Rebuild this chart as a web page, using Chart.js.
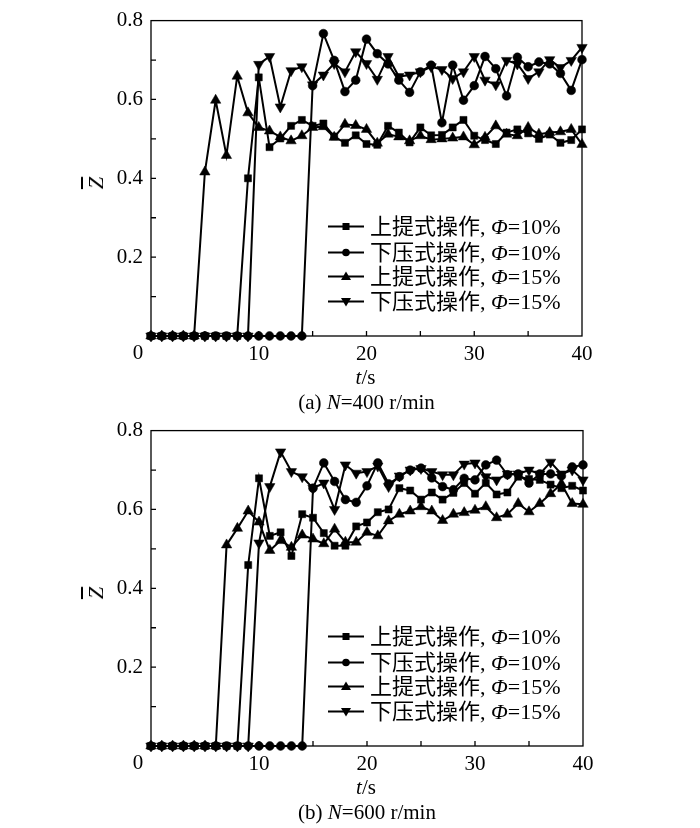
<!DOCTYPE html>
<html>
<head>
<meta charset="utf-8">
<script src="https://cdn.jsdelivr.net/npm/chart.js@4"></script>
<style>
  html, body { margin:0; padding:0; background:#fff; }
  body { width:700px; height:828px; position:relative; overflow:hidden; }
  .cv { position:absolute; left:0; }
  .txt { position:absolute; transform:translate(-50%,-50%); white-space:nowrap; font-family:"Liberation Serif","Noto Sans CJK SC",serif; font-size:21px; color:#000; line-height:1; }
  .leg { position:absolute; display:flex; align-items:center; height:24px; font-family:"Liberation Serif","Noto Sans CJK SC",serif; font-size:22px; color:#000; white-space:nowrap; line-height:1; }
  .leg svg { margin-right:6px; }
  .zl { position:absolute; transform:translate(-50%,-50%) rotate(-90deg); font-family:"Liberation Serif",serif; font-size:22px; font-style:italic; text-decoration:overline; line-height:1; }
</style>
</head>
<body>
<canvas id="ch1" class="cv" width="700" height="410" style="top:0px;width:700px;height:410px"></canvas>
<canvas id="ch2" class="cv" width="700" height="418" style="top:410px;width:700px;height:418px"></canvas>
<script>
// ---------- data ----------
const T = [0,1,2,3,4,5,6,7,8,9,10,11,12,13,14,15,16,17,18,19,20,21,22,23,24,25,26,27,28,29,30,31,32,33,34,35,36,37,38,39,40];

const seriesNames = ['上提式操作', '下压式操作', '上提式操作', '下压式操作'];
const phiValues = ['10%', '10%', '15%', '15%'];
const captions = ['(a) ', '(b) '];
const speeds = ['400 r/min', '600 r/min'];

// (a) N=400 r/min
const a_up10 = [0,0,0,0,0,0,0,0,0,0.400,0.656,0.479,0.501,0.533,0.548,0.533,0.539,0.506,0.490,0.509,0.487,0.485,0.533,0.516,0.491,0.529,0.509,0.510,0.529,0.548,0.508,0.497,0.487,0.516,0.524,0.514,0.500,0.511,0.490,0.497,0.524];
const a_down10 = [0,0,0,0,0,0,0,0,0,0,0,0,0,0,0,0.635,0.767,0.699,0.620,0.649,0.753,0.716,0.690,0.649,0.618,0.670,0.687,0.541,0.687,0.598,0.635,0.709,0.678,0.609,0.707,0.683,0.695,0.690,0.666,0.623,0.701];
const a_up15 = [0,0,0,0,0,0.416,0.598,0.458,0.659,0.566,0.529,0.520,0.505,0.495,0.508,0.529,0.531,0.504,0.537,0.534,0.524,0.489,0.512,0.505,0.495,0.508,0.498,0.500,0.502,0.505,0.485,0.504,0.533,0.512,0.508,0.529,0.512,0.516,0.518,0.524,0.486];
const a_down15 = [0,0,0,0,0,0,0,0,0,0,0.689,0.709,0.581,0.673,0.683,0.637,0.662,0.691,0.670,0.721,0.691,0.651,0.709,0.658,0.662,0.670,0.683,0.676,0.653,0.670,0.709,0.649,0.637,0.699,0.690,0.653,0.670,0.701,0.681,0.699,0.732];

// (b) N=600 r/min
const b_up10 = [0,0,0,0,0,0,0,0,0,0.459,0.679,0.533,0.542,0.482,0.588,0.579,0.540,0.508,0.508,0.557,0.567,0.593,0.600,0.654,0.648,0.625,0.643,0.625,0.642,0.667,0.640,0.667,0.638,0.643,0.683,0.677,0.675,0.663,0.654,0.660,0.648];
const b_down10 = [0,0,0,0,0,0,0,0,0,0,0,0,0,0,0,0.654,0.718,0.671,0.625,0.618,0.660,0.718,0.665,0.683,0.700,0.705,0.680,0.658,0.650,0.679,0.675,0.713,0.725,0.688,0.690,0.667,0.690,0.690,0.685,0.708,0.713];
const b_up15 = [0,0,0,0,0,0,0,0.510,0.552,0.596,0.568,0.496,0.521,0.504,0.535,0.525,0.513,0.550,0.517,0.517,0.542,0.533,0.571,0.588,0.596,0.607,0.596,0.572,0.588,0.592,0.598,0.607,0.579,0.588,0.615,0.594,0.615,0.640,0.665,0.615,0.613];
const b_down15 = [0,0,0,0,0,0,0,0,0,0,0.515,0.658,0.746,0.696,0.683,0.654,0.667,0.600,0.713,0.692,0.696,0.710,0.658,0.685,0.700,0.704,0.696,0.688,0.688,0.715,0.718,0.683,0.675,0.690,0.690,0.700,0.690,0.720,0.690,0.700,0.675];

const yTickLabels = [0.2, 0.4, 0.6, 0.8];
const xTickLabels = [10, 20, 30, 40];
const yTickMarks = [0.1, 0.2, 0.3, 0.4, 0.5, 0.6, 0.7];
const xTickMarks = [5, 10, 15, 20, 25, 30, 35];

// ---------- drawing ----------
const markerStyles = [
  { pointStyle: 'rect', pointRadius: 5, rotation: 0 },
  { pointStyle: 'circle', pointRadius: 4.4, rotation: 0 },
  { pointStyle: 'triangle', pointRadius: 6, rotation: 0 },
  { pointStyle: 'triangle', pointRadius: 6, rotation: 180 }
];

const framePlugin = {
  id: 'frame',
  beforeDatasetsDraw(chart) {
    const { ctx, chartArea: a, scales } = chart;
    ctx.save();
    ctx.strokeStyle = '#000';
    ctx.lineWidth = 1.3;
    ctx.strokeRect(a.left, a.top, a.right - a.left, a.bottom - a.top);
    ctx.beginPath();
    yTickMarks.forEach(v => {
      const py = scales.y.getPixelForValue(v);
      ctx.moveTo(a.left, py); ctx.lineTo(a.left + 5, py);
    });
    xTickMarks.forEach(v => {
      const px = scales.x.getPixelForValue(v);
      ctx.moveTo(px, a.bottom); ctx.lineTo(px, a.bottom - 5);
    });
    ctx.stroke();
    ctx.restore();
  }
};

function makeChart(id, seriesList, padTop, padRight, xHeight) {
  const datasets = seriesList.map((vals, i) => ({
    label: seriesNames[i] + ', Φ=' + phiValues[i],
    data: T.map((t, k) => ({ x: t, y: vals[k] })),
    borderColor: '#000',
    borderWidth: 2,
    backgroundColor: '#000',
    pointBackgroundColor: '#000',
    pointBorderColor: '#000',
    pointBorderWidth: 0.5,
    pointStyle: markerStyles[i].pointStyle,
    pointRadius: markerStyles[i].pointRadius,
    rotation: markerStyles[i].rotation,
    tension: 0,
    fill: false,
    clip: false
  }));
  const font = { family: 'Liberation Serif', size: 21 };
  return new Chart(document.getElementById(id), {
    type: 'line',
    data: { datasets },
    options: {
      responsive: false,
      animation: false,
      devicePixelRatio: 1,
      layout: { padding: { left: 0, right: padRight, top: padTop, bottom: 0 } },
      plugins: { legend: { display: false }, tooltip: { enabled: false } },
      scales: {
        x: {
          type: 'linear', min: 0, max: 40,
          afterFit(s) { s.height = xHeight; },
          grid: { display: false, drawTicks: false },
          border: { display: false },
          afterBuildTicks(s) { s.ticks = xTickLabels.map(v => ({ value: v })); },
          ticks: { color: '#000', font, padding: 6, maxRotation: 0, autoSkip: false }
        },
        y: {
          min: 0, max: 0.8,
          afterFit(s) { s.width = 151; },
          grid: { display: false, drawTicks: false },
          border: { display: false },
          afterBuildTicks(s) { s.ticks = yTickLabels.map(v => ({ value: v })); },
          ticks: { color: '#000', font, padding: 8, callback: v => Number(v).toFixed(1) }
        }
      }
    },
    plugins: [framePlugin]
  });
}

const c1 = makeChart('ch1', [a_up10, a_down10, a_up15, a_down15], 16, 118, 74);
const c2 = makeChart('ch2', [b_up10, b_down10, b_up15, b_down15], 17, 117, 82);

// ---------- HTML text overlays ----------
function addText(html, cx, cy, cls) {
  const d = document.createElement('div');
  d.className = cls || 'txt';
  d.innerHTML = html;
  d.style.left = cx + 'px';
  d.style.top = cy + 'px';
  document.body.appendChild(d);
}

function markerSvg(i) {
  let m = '';
  if (i === 0) m = '<rect x="14.5" y="4" width="7" height="7" fill="#000"/>';
  else if (i === 1) m = '<circle cx="18" cy="7.5" r="3.8" fill="#000"/>';
  else if (i === 2) m = '<polygon points="18,2.5 23,11 13,11" fill="#000"/>';
  else m = '<polygon points="13,4 23,4 18,12.5" fill="#000"/>';
  return '<svg width="36" height="15" viewBox="0 0 36 15"><line x1="0" y1="7.5" x2="36" y2="7.5" stroke="#000" stroke-width="1.8"/>' + m + '</svg>';
}

function addLegend(rowCenters) {
  rowCenters.forEach((cy, i) => {
    const d = document.createElement('div');
    d.className = 'leg';
    d.innerHTML = markerSvg(i) + '<span>' + seriesNames[i] + ', <i>Φ</i>=' + phiValues[i] + '</span>';
    d.style.left = '328px';
    d.style.top = (cy - 12) + 'px';
    document.body.appendChild(d);
  });
}

[c1, c2].forEach((ch, idx) => {
  const off = idx === 0 ? 0 : 410;
  const a = ch.chartArea;
  const top = a.top + off, bottom = a.bottom + off;
  const cx = (a.left + a.right) / 2;
  addText('0', 138, bottom + 16);
  addText('<i>t</i>/s', cx - 1, bottom + 41);
  addText(captions[idx] + '<i>N</i>=' + speeds[idx], cx, bottom + 66);
  addText('Z', 96, top + 162, 'zl');
  addLegend([top + 206, top + 232, top + 256, top + 281]);
});
</script>
</body>
</html>
